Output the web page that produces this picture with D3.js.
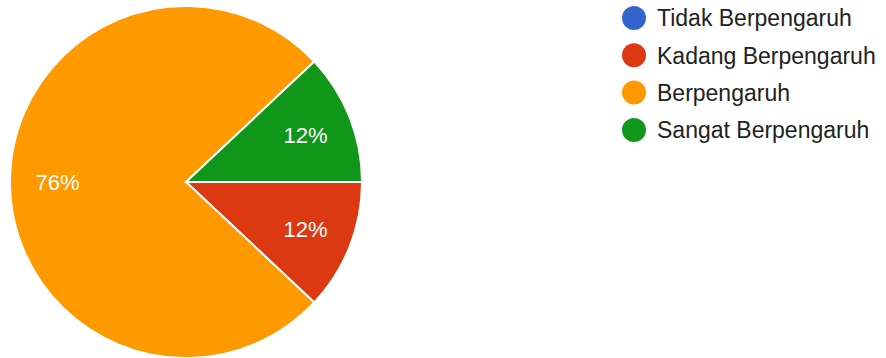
<!DOCTYPE html>
<html><head><meta charset="utf-8">
<script src="https://cdn.jsdelivr.net/npm/d3@7"></script>
<style>body{margin:0;background:#fff;} svg{display:block;}</style>
</head><body>
<script>
const categories = ["Tidak Berpengaruh", "Kadang Berpengaruh", "Berpengaruh", "Sangat Berpengaruh"];
const values = [0, 3, 19, 3];
const colors = ["#3366cc", "#dc3912", "#ff9900", "#109618"];

const W = 886, H = 358;
const svg = d3.select("body").append("svg").attr("width", W).attr("height", H);
const cx = 186, cy = 182, r = 176;
const total = d3.sum(values);
const pie = d3.pie().sort(null).value(d => d).startAngle(Math.PI / 2).endAngle(Math.PI / 2 + 2 * Math.PI);
const arcs = pie(values);
const arc = d3.arc().innerRadius(0).outerRadius(r);
const labelArc = d3.arc().innerRadius(r * 0.73).outerRadius(r * 0.73);
const g = svg.append("g").attr("transform", `translate(${cx},${cy})`);
g.selectAll("path").data(arcs).join("path")
  .attr("d", arc).attr("fill", (d, i) => colors[i])
  .attr("stroke", "#fff").attr("stroke-width", 2);
g.selectAll("text").data(arcs.filter(d => d.value > 0)).join("text")
  .attr("transform", d => `translate(${labelArc.centroid(d)})`)
  .attr("text-anchor", "middle").attr("dy", "0.36em")
  .attr("fill", "#fff").attr("font-family", "'Liberation Sans', Arial, sans-serif").attr("font-size", 22)
  .text(d => Math.round(d.value / total * 100) + "%");

const leg = svg.append("g");
const rows = leg.selectAll("g").data(categories).join("g")
  .attr("transform", (d, i) => `translate(634,${18 + i * 37.3})`);
rows.append("circle").attr("r", 12).attr("fill", (d, i) => colors[i]);
rows.append("text").attr("x", 23).attr("dy", "0.36em")
  .attr("font-family", "'Liberation Sans', Arial, sans-serif").attr("font-size", 23).attr("fill", "#222")
  .text(d => d);
</script>
</body></html>
